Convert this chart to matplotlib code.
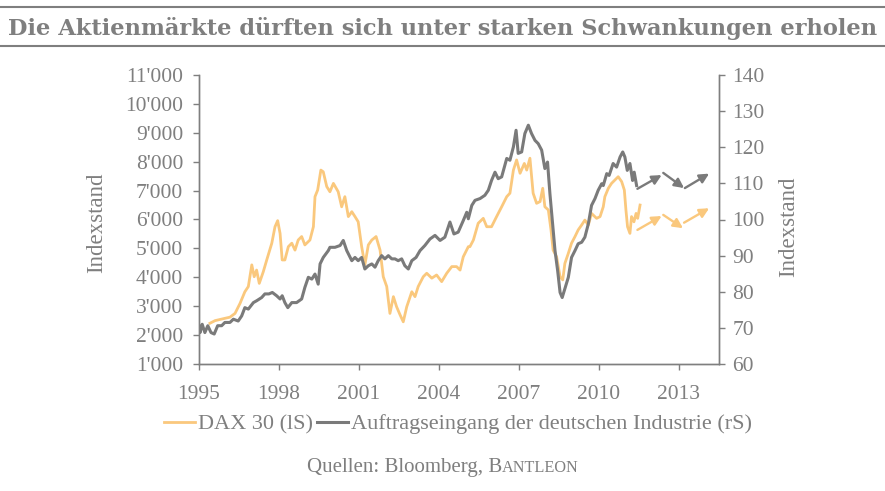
import matplotlib
matplotlib.use("Agg")
import matplotlib.pyplot as plt
from matplotlib.lines import Line2D

plt.rcParams['font.family'] = ['Liberation Serif', 'DejaVu Serif']

# colours
grey = '#7f7f7f'
orange = '#fac87d'
line_grey = '#7a7a7a'

# DAX 30 (left axis)
dax_year = [1995.41, 1995.60, 1995.97, 1996.16, 1996.35, 1996.54, 1996.72, 1996.85, 1996.98, 1997.07,
            1997.16, 1997.26, 1997.41, 1997.54, 1997.73, 1997.85, 1997.95, 1998.04, 1998.12, 1998.22,
            1998.35, 1998.48, 1998.60, 1998.72, 1998.85, 1998.97, 1999.16, 1999.29, 1999.35, 1999.45,
            1999.57, 1999.66, 1999.79, 1999.91, 2000.04, 2000.22, 2000.35, 2000.47, 2000.60, 2000.73,
            2000.85, 2000.97, 2001.10, 2001.22, 2001.35, 2001.48, 2001.64, 2001.79, 2001.91, 2002.04,
            2002.16, 2002.29, 2002.41, 2002.54, 2002.66, 2002.79, 2002.98, 2003.10, 2003.22, 2003.41,
            2003.54, 2003.73, 2003.91, 2004.10, 2004.29, 2004.48, 2004.66, 2004.79, 2004.91, 2005.10,
            2005.16, 2005.29, 2005.47, 2005.66, 2005.79, 2005.97, 2006.16, 2006.35, 2006.54, 2006.66,
            2006.79, 2006.91, 2007.04, 2007.20, 2007.29, 2007.41, 2007.53, 2007.66, 2007.79, 2007.89,
            2007.97, 2008.10, 2008.20, 2008.28, 2008.41, 2008.54, 2008.64, 2008.72, 2008.85, 2008.97,
            2009.10, 2009.22, 2009.35, 2009.47, 2009.60, 2009.72, 2009.91, 2010.04, 2010.16, 2010.22,
            2010.35, 2010.47, 2010.60, 2010.72, 2010.85, 2010.95, 2011.01, 2011.07, 2011.16, 2011.22,
            2011.31, 2011.39, 2011.45, 2011.54]
dax_value = [2410, 2500, 2580, 2620, 2750, 3100, 3500, 3680, 4430, 4020,
             4250, 3790, 4190, 4600, 5180, 5750, 5960, 5520, 4600, 4600,
             5060, 5180, 4940, 5290, 5410, 5120, 5290, 5750, 6790, 7020,
             7710, 7650, 7140, 6960, 7250, 6960, 6440, 6790, 6100, 6270,
             6100, 5920, 5060, 4430, 5120, 5290, 5410, 4940, 4020, 3680,
             2750, 3330, 2980, 2700, 2460, 2980, 3500, 3330, 3680, 4020,
             4140, 3970, 4080, 3850, 4140, 4370, 4370, 4250, 4710, 5060,
             5060, 5290, 5870, 6040, 5750, 5750, 6100, 6440, 6790, 6910,
             7710, 8060, 7600, 7940, 7710, 8120, 6910, 6560, 6620, 7080,
             6440, 6330, 5640, 4940, 4710, 4020, 3910, 4480, 4830, 5180,
             5410, 5640, 5810, 5980, 5810, 6210, 6040, 6100, 6440, 6790,
             7080, 7250, 7370, 7480, 7310, 7020, 6330, 5750, 5520, 6100,
             5920, 6210, 6040, 6500]

# Auftragseingang (right axis)
order_year = [1995.00, 1995.04, 1995.12, 1995.22, 1995.33, 1995.45, 1995.57, 1995.70, 1995.85, 1995.97,
              1996.16, 1996.29, 1996.47, 1996.60, 1996.72, 1996.85, 1997.04, 1997.16, 1997.35, 1997.47,
              1997.62, 1997.75, 1997.91, 1998.04, 1998.12, 1998.22, 1998.33, 1998.48, 1998.66, 1998.85,
              1998.97, 1999.10, 1999.23, 1999.35, 1999.47, 1999.54, 1999.66, 1999.85, 1999.91, 2000.10,
              2000.29, 2000.41, 2000.54, 2000.73, 2000.85, 2000.97, 2001.10, 2001.22, 2001.35, 2001.48,
              2001.60, 2001.72, 2001.85, 2001.97, 2002.10, 2002.23, 2002.35, 2002.47, 2002.60, 2002.72,
              2002.85, 2002.98, 2003.14, 2003.29, 2003.47, 2003.66, 2003.85, 2004.04, 2004.22, 2004.41,
              2004.56, 2004.72, 2004.91, 2005.04, 2005.10, 2005.23, 2005.35, 2005.54, 2005.72, 2005.85,
              2005.97, 2006.10, 2006.22, 2006.35, 2006.54, 2006.66, 2006.79, 2006.89, 2006.97, 2007.10,
              2007.22, 2007.35, 2007.47, 2007.60, 2007.72, 2007.85, 2007.97, 2008.07, 2008.16, 2008.25,
              2008.35, 2008.45, 2008.54, 2008.62, 2008.72, 2008.85, 2008.97, 2009.10, 2009.22, 2009.35,
              2009.47, 2009.60, 2009.72, 2009.85, 2009.97, 2010.10, 2010.16, 2010.29, 2010.38, 2010.53,
              2010.66, 2010.79, 2010.89, 2010.97, 2011.06, 2011.16, 2011.26, 2011.32, 2011.41]
order_value = [70.6, 68.7, 71.0, 68.7, 70.6, 68.7, 68.3, 70.6, 70.6, 71.5,
               71.5, 72.4, 71.9, 73.3, 75.6, 75.2, 77.0, 77.5, 78.4, 79.4,
               79.4, 79.8, 78.9, 78.0, 78.9, 77.0, 75.6, 77.0, 77.0, 78.0,
               81.2, 84.0, 83.5, 84.9, 82.1, 87.7, 89.5, 91.4, 92.3, 92.3,
               92.8, 94.2, 91.4, 88.6, 89.5, 88.6, 89.5, 86.3, 87.2, 87.7,
               86.8, 88.6, 90.0, 89.1, 90.0, 89.1, 89.1, 88.6, 89.1, 87.2,
               86.3, 88.6, 89.5, 91.4, 92.8, 94.6, 95.6, 94.2, 95.1, 99.3,
               96.0, 96.5, 99.7, 102.0, 100.2, 103.9, 105.3, 105.8, 106.7, 108.1,
               110.8, 113.1, 111.3, 111.8, 116.9, 116.4, 120.1, 124.7, 118.3, 118.7,
               123.8, 126.1, 123.8, 121.9, 121.0, 119.2, 114.1, 115.9, 107.1, 99.7,
               91.4, 85.8, 79.8, 78.4, 80.8, 84.0, 89.5, 91.4, 93.3, 93.7,
               95.1, 98.8, 103.9, 105.8, 108.1, 109.9, 109.4, 112.7, 112.2, 115.5,
               114.5, 117.3, 118.7, 117.3, 113.6, 115.5, 110.8, 113.1, 109.4]

# forecast arrows (start -> end)
dax_arrow_x0 = [2011.44, 2012.41, 2013.19]
dax_arrow_y0 = [5640, 6160, 5890]
dax_arrow_x1 = [2012.35, 2013.15, 2014.13]
dax_arrow_y1 = [6120, 5700, 6390]
order_arrow_x0 = [2011.44, 2012.41, 2013.22]
order_arrow_y0 = [108.5, 112.9, 108.7]
order_arrow_x1 = [2012.35, 2013.19, 2014.13]
order_arrow_y1 = [112.3, 108.7, 112.7]

left_ticks = list(range(1000, 11001, 1000))
right_ticks = list(range(60, 141, 10))
year_ticks = [1995, 1998, 2001, 2004, 2007, 2010, 2013]

title = 'Die Aktienmärkte dürften sich unter starken Schwankungen erholen'
labels = ['DAX 30 (lS)', 'Auftragseingang der deutschen Industrie (rS)']

W, H = 885, 491
fig = plt.figure(figsize=(W / 100, H / 100), dpi=100)
ax = fig.add_axes([199 / W, 1 - 364 / H, 520 / W, 289 / H])
ax2 = ax.twinx()

l1, = ax.plot(dax_year, dax_value, color=orange, lw=2.0)
l2, = ax2.plot(order_year, order_value, color=line_grey, lw=2.2)

arrow_style = '-|>,head_length=0.4,head_width=0.2'
for x0, y0, x1, y1 in zip(dax_arrow_x0, dax_arrow_y0, dax_arrow_x1, dax_arrow_y1):
    ax.annotate('', xy=(x1, y1), xytext=(x0, y0),
                arrowprops=dict(arrowstyle=arrow_style, color=orange, lw=1.7,
                                shrinkA=0, shrinkB=0, mutation_scale=14))
for x0, y0, x1, y1 in zip(order_arrow_x0, order_arrow_y0, order_arrow_x1, order_arrow_y1):
    ax2.annotate('', xy=(x1, y1), xytext=(x0, y0),
                 arrowprops=dict(arrowstyle=arrow_style, color=line_grey, lw=1.7,
                                 shrinkA=0, shrinkB=0, mutation_scale=14))

ax.set_xlim(1995, 1995 + 520 / (80 / 3))
ax.set_ylim(1000, 11000)
ax2.set_ylim(60, 140)
ax.set_xticks(year_ticks)
ax.set_xticklabels([str(y) for y in year_ticks])
ax.set_yticks(left_ticks)
ax.set_yticklabels([f"{v:,}".replace(',', "'") for v in left_ticks])
ax2.set_yticks(right_ticks)

for a in (ax, ax2):
    a.spines['top'].set_visible(False)
    for s in ('left', 'right', 'bottom'):
        a.spines[s].set_color(grey)
        a.spines[s].set_linewidth(1.0)
    a.tick_params(colors=grey, labelsize=15.5, length=4.3, width=1.0)
ax.tick_params(axis='y', pad=7)
ax.tick_params(axis='x', pad=11)
ax2.tick_params(axis='y', pad=5.5)

ax.set_ylabel('Indexstand', color=grey, fontsize=16.5)
ax2.set_ylabel('Indexstand', color=grey, fontsize=16.5)
ax.yaxis.set_label_coords((107 - 199) / 520, 0.49)
ax2.yaxis.set_label_coords((778 - 199) / 520, 0.475)

# title with rules above and below
fig.add_artist(Line2D([0, 1], [1 - 7.3 / H] * 2, transform=fig.transFigure, color=grey, lw=1.5))
fig.add_artist(Line2D([0, 1], [1 - 46 / H] * 2, transform=fig.transFigure, color=grey, lw=1.5))
t = fig.text(8 / W, 1 - 34.5 / H, title, color=grey, fontsize=16, fontweight='bold',
             family='DejaVu Serif', ha='left', va='baseline')

fig.legend([l1, l2], labels, loc='center', bbox_to_anchor=(458 / W, 1 - 424 / H),
           ncol=2, frameon=False, fontsize=16, labelcolor=grey, handlelength=1.4,
           handletextpad=0.12, columnspacing=0.2)

s1 = fig.text(0, 1 - 472 / H, 'Quellen: Bloomberg, B', color=grey, fontsize=15,
              ha='left', va='baseline')
s2 = fig.text(0, 1 - 472 / H, 'ANTLEON', color=grey, fontsize=11.7, ha='left', va='baseline')

# fit title width and centre the source line
fig.canvas.draw()
r = fig.canvas.get_renderer()
w = t.get_window_extent(r).width
t.set_fontsize(16 * 870 / w)
w1 = s1.get_window_extent(r).width
w2 = s2.get_window_extent(r).width
x0 = 443 - (w1 + w2) / 2
s1.set_x(x0 / W)
s2.set_x((x0 + w1) / W)

fig.savefig('out.png', dpi=100)
